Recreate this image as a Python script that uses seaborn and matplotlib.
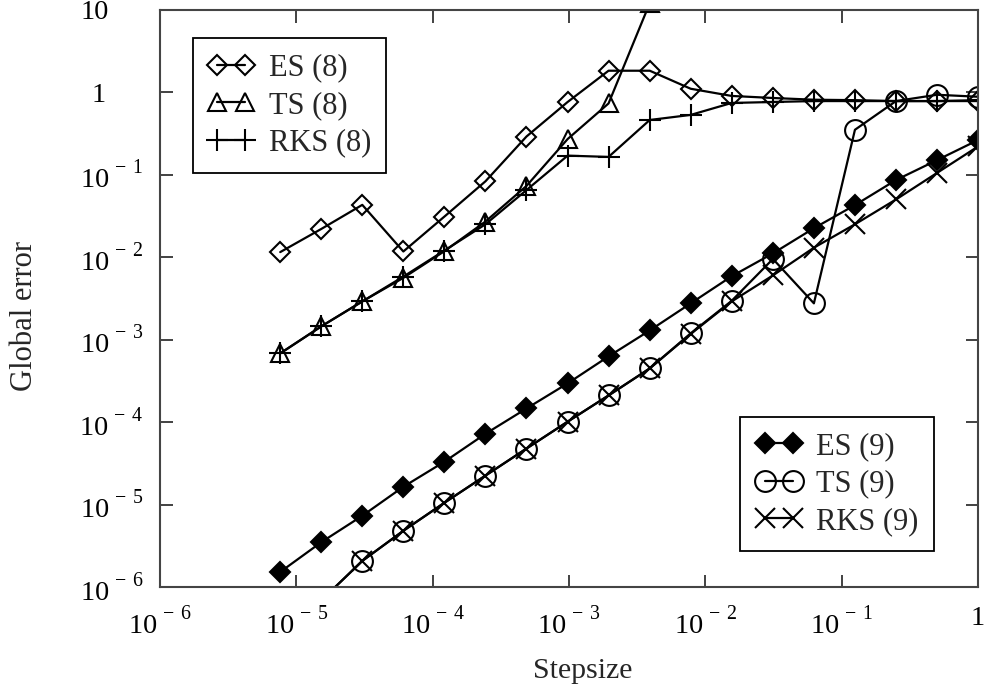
import numpy as np
import pandas as pd
import seaborn as sns
import matplotlib
matplotlib.use("Agg")
import matplotlib.pyplot as plt
import matplotlib._mathtext as _mt
from matplotlib.ticker import FixedLocator, FixedFormatter, NullLocator

# Step sizes (2^-17 ... 1)
stepsize = [7.63e-6, 1.53e-5, 3.05e-5, 6.10e-5, 1.22e-4, 2.44e-4, 4.88e-4, 9.77e-4,
            1.95e-3, 3.91e-3, 7.81e-3, 1.56e-2, 3.13e-2, 6.25e-2, 0.125, 0.25, 0.5, 1.0]

es8 = [0.0115, 0.022, 0.043, 0.0117, 0.031, 0.083, 0.29, 0.76, 1.82, 1.82,
       1.1, 0.90, 0.85, 0.81, 0.80, 0.78, 0.78, 0.78]
ts8 = [6.8e-4, 1.45e-3, 2.9e-3, 5.6e-3, 0.0118, 0.027, 0.073, 0.27, 0.73, 12.0,
       np.nan, np.nan, np.nan, np.nan, np.nan, np.nan, np.nan, np.nan]
rks8 = [6.8e-4, 1.45e-3, 2.9e-3, 5.8e-3, 0.0120, 0.025, 0.065, 0.17, 0.164, 0.46,
        0.53, 0.74, 0.76, 0.78, 0.78, 0.78, 0.78, 0.80]

es9 = [1.52e-6, 3.5e-6, 7.3e-6, 1.64e-5, 3.3e-5, 7.2e-5, 1.46e-4, 2.94e-4, 6.25e-4,
       1.29e-3, 2.75e-3, 5.86e-3, 0.0111, 0.0224, 0.0427, 0.086, 0.15, 0.263]
ts9 = [3e-7, 6.9e-7, 2.07e-6, 4.8e-6, 1.05e-5, 2.24e-5, 4.77e-5, 1.01e-4, 2.1e-4,
       4.47e-4, 1.19e-3, 2.95e-3, 9.5e-3, 2.75e-3, 0.35, 0.78, 0.93, 0.88]
rks9 = [3e-7, 6.9e-7, 2.07e-6, 4.8e-6, 1.05e-5, 2.24e-5, 4.77e-5, 1.01e-4, 2.1e-4,
        4.47e-4, 1.17e-3, 2.9e-3, 6.0e-3, 0.013, 0.025, 0.05, 0.105, 0.22]

xticks = [1e-6, 1e-5, 1e-4, 1e-3, 1e-2, 1e-1, 1]
xticklabels = [r"$10^{\,-\;6}$", r"$10^{\,-\;5}$", r"$10^{\,-\;4}$", r"$10^{\,-\;3}$",
               r"$10^{\,-\;2}$", r"$10^{\,-\;1}$", "1"]
yticks = [1e-6, 1e-5, 1e-4, 1e-3, 1e-2, 1e-1, 1, 10]
yticklabels = [r"$10^{\,-\;6}$", r"$10^{\,-\;5}$", r"$10^{\,-\;4}$", r"$10^{\,-\;3}$",
               r"$10^{\,-\;2}$", r"$10^{\,-\;1}$", "1", "10"]

# raise superscripts higher (Times-like typesetting in the reference)
_mt.FontConstantsBase.sup1 = 1.15

sns.set_style("ticks")
plt.rcParams["font.family"] = ["Liberation Serif", "DejaVu Serif"]
plt.rcParams["mathtext.fontset"] = "custom"
plt.rcParams["mathtext.rm"] = "Liberation Serif"
plt.rcParams["mathtext.it"] = "Liberation Serif:italic"
plt.rcParams["mathtext.bf"] = "Liberation Serif:bold"

fig = plt.figure(figsize=(9.93, 6.93), dpi=100)
ax = fig.add_axes([0.161, 0.153, 0.824, 0.833])

lw = 1.6
series8 = [
    ("ES (8)", es8, dict(marker="D", markersize=10, markerfacecolor="none")),
    ("TS (8)", ts8, dict(marker="^", markersize=13, markerfacecolor="none")),
    ("RKS (8)", rks8, dict(marker="+", markersize=16)),
]
series9 = [
    ("ES (9)", es9, dict(marker="D", markersize=10, markerfacecolor="black")),
    ("TS (9)", ts9, dict(marker="o", markersize=15, markerfacecolor="none")),
    ("RKS (9)", rks9, dict(marker="x", markersize=14)),
]

for name, vals, kw in series8 + series9:
    df = pd.DataFrame({"h": stepsize, "err": vals})
    sns.lineplot(data=df, x="h", y="err", ax=ax, color="black", linewidth=lw,
                 markeredgecolor="black", markeredgewidth=1.5, label=name, legend=False, **kw)

ax.set_xscale("log")
ax.set_yscale("log")
ax.set_xlim(1e-6, 1)
ax.set_ylim(1e-6, 10)

ax.xaxis.set_major_locator(FixedLocator(xticks))
ax.xaxis.set_major_formatter(FixedFormatter(xticklabels))
ax.yaxis.set_major_locator(FixedLocator(yticks))
ax.yaxis.set_major_formatter(FixedFormatter(yticklabels))
ax.xaxis.set_minor_locator(NullLocator())
ax.yaxis.set_minor_locator(NullLocator())
ax.tick_params(direction="in", length=9, width=1.3, top=True, right=True,
               labelsize=20.5, colors="#333333", labelcolor="black")
ax.tick_params(axis="x", pad=14)
ax.tick_params(axis="y", pad=12)

for s in ax.spines.values():
    s.set_color("#444444")
    s.set_linewidth(1.5)

ax.set_xlabel("Stepsize", fontsize=21.5)
ax.set_ylabel("Global error", fontsize=22)
ax.xaxis.set_label_coords(0.517, -0.123)
ax.yaxis.set_label_coords(-0.148, 0.470)

lines = ax.get_lines()
legkw = dict(numpoints=2, fontsize=22, frameon=True, fancybox=False, edgecolor="black",
             framealpha=1, handlelength=1.52, handletextpad=0.47, borderpad=0.5,
             labelspacing=0.28, borderaxespad=0)
leg1 = ax.legend(lines[:3], [s[0] for s in series8], loc="upper left",
                 bbox_to_anchor=(0.040, 0.951), **legkw)
leg1.get_frame().set_linewidth(1.3)
ax.add_artist(leg1)
leg2 = ax.legend(lines[3:6], [s[0] for s in series9], loc="lower right",
                 bbox_to_anchor=(0.946, 0.062), **legkw)
leg2.get_frame().set_linewidth(1.3)

# labels "1" and "10" sit where the mantissa of the other labels sits
yt = ax.yaxis.get_major_ticks()
yt[6].set_pad(39)
yt[7].set_pad(37)

fig.savefig("out.png", dpi=100)
